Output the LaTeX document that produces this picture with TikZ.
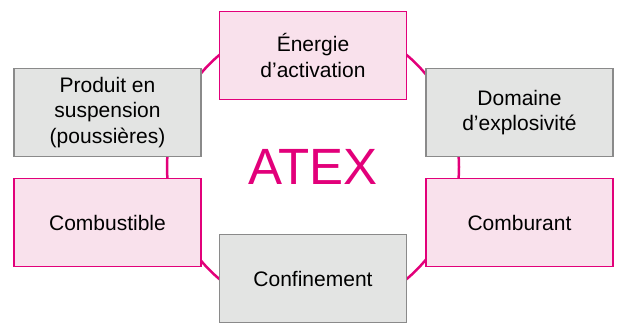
\documentclass[tikz,border=0pt]{standalone}
\usepackage{fontspec}
\setmainfont{Liberation Sans}
\definecolor{atexmag}{HTML}{E2007A}
\definecolor{atexpink}{HTML}{F9E1EC}
\definecolor{atexgray}{HTML}{E3E4E3}
\definecolor{atexline}{HTML}{8A8A8A}
\tikzset{
  pinkbox/.style={draw=atexmag,fill=atexpink,line width=1.5pt,minimum width=187pt,minimum height=88pt,
    inner sep=0pt,align=center,font=\fontsize{21}{25.5}\selectfont},
  graybox/.style={pinkbox,draw=atexline,fill=atexgray}
}
\begin{document}
\begin{tikzpicture}[x=1pt,y=-1pt]
    \useasboundingbox (0,0) rectangle (624,330);
    \coordinate (centre) at (313,167);
    \draw[atexmag,line width=2.5pt] (centre) circle (146pt);
    \node[pinkbox] (energie) at (313,55.5) {Énergie\\d’activation};
    \node[graybox] (produit) at (107.5,112.5) {Produit en\\suspension\\(poussières)};
    \node[graybox] (domaine) at (519.5,112.5) {Domaine\\d’explosivité};
    \node[pinkbox] (combustible) at (107.5,222.5) {Combustible};
    \node[pinkbox] (comburant) at (519.5,222.5) {Comburant};
    \node[graybox] (confinement) at (313,278.5) {Confinement};
    \node[text=atexmag,inner sep=0pt,font=\fontsize{51}{51}\selectfont] (atex) at (centre) {ATEX};
\end{tikzpicture}
\end{document}
